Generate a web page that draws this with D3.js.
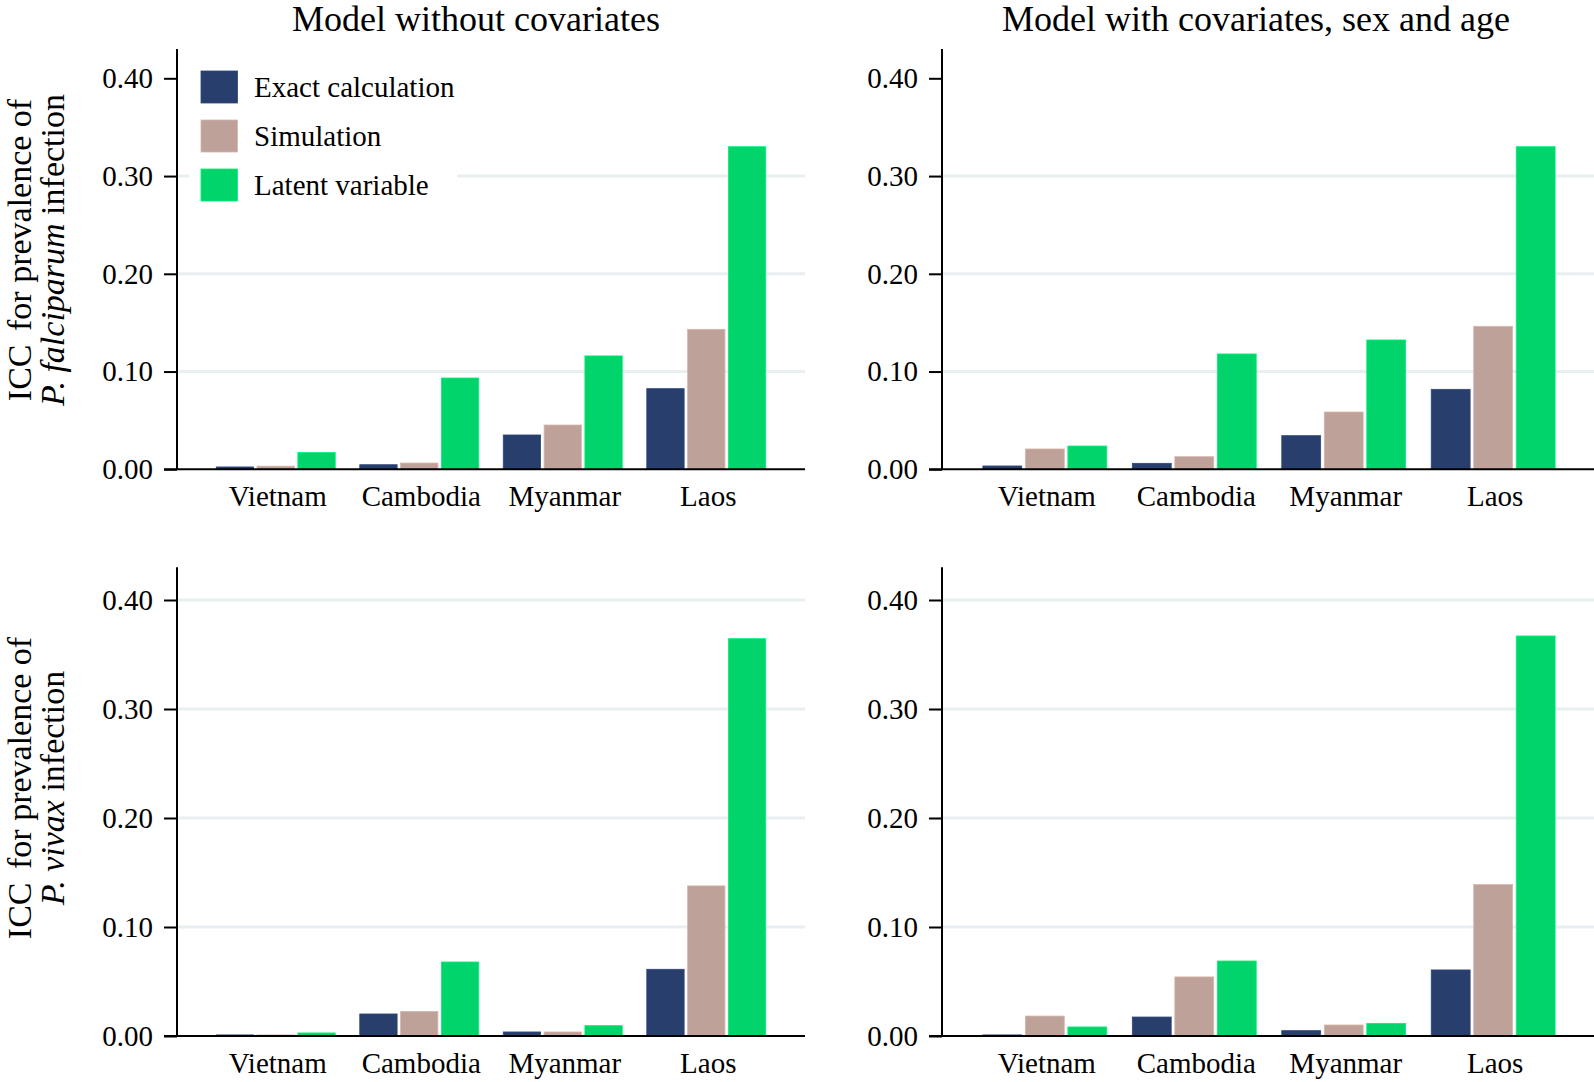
<!DOCTYPE html>
<html>
<head>
<meta charset="utf-8">
<script src="https://cdn.jsdelivr.net/npm/d3@7"></script>
<style>
  html, body { margin: 0; padding: 0; background: #fff; }
  svg { display: block; }
  text { font-family: "Liberation Serif", "Times New Roman", serif; fill: #000; }
</style>
</head>
<body>
<svg id="chart" width="1594" height="1082"></svg>
<script>
// ---------- data ----------
const categories = ["Vietnam", "Cambodia", "Myanmar", "Laos"];
const seriesNames = ["Exact calculation", "Simulation", "Latent variable"];
const seriesColors = ["#283e6c", "#bea198", "#00d46a"];
const yTicks = [0, 0.1, 0.2, 0.3, 0.4];
const gridTicksTop = [0.1, 0.2, 0.3];
const gridTicksBottom = [0.1, 0.2, 0.3, 0.4];
const columnTitles = ["Model without covariates", "Model with covariates, sex and age"];

// P. falciparum, model without covariates
const pfNoCovExact  = [0.0024, 0.0047, 0.0351, 0.0825];
const pfNoCovSim    = [0.0032, 0.0064, 0.0453, 0.1432];
const pfNoCovLatent = [0.0172, 0.0934, 0.1160, 0.3300];
// P. falciparum, model with covariates
const pfCovExact    = [0.0034, 0.0061, 0.0344, 0.0818];
const pfCovSim      = [0.0208, 0.0129, 0.0586, 0.1463];
const pfCovLatent   = [0.0238, 0.1180, 0.1323, 0.3300];
// P. vivax, model without covariates
const pvNoCovExact  = [0.0010, 0.0202, 0.0037, 0.0612];
const pvNoCovSim    = [0.0010, 0.0226, 0.0037, 0.1377];
const pvNoCovLatent = [0.0028, 0.0679, 0.0095, 0.3645];
// P. vivax, model with covariates
const pvCovExact    = [0.0010, 0.0174, 0.0049, 0.0606];
const pvCovSim      = [0.0183, 0.0542, 0.0101, 0.1389];
const pvCovLatent   = [0.0083, 0.0688, 0.0116, 0.3670];

// ---------- layout ----------
const svg = d3.select("#chart");
const FONT_AX = 29;

const panels = [
  { x0: 177, x1: 805,  yBase: 469.3, pxPerUnit: 977.5, grid: gridTicksTop,    series: [pfNoCovExact, pfNoCovSim, pfNoCovLatent], legend: true },
  { x0: 942, x1: 1596, yBase: 469.3, pxPerUnit: 977.5, grid: gridTicksTop,    series: [pfCovExact, pfCovSim, pfCovLatent] },
  { x0: 177, x1: 805,  yBase: 1036,  pxPerUnit: 1090,  grid: gridTicksBottom, series: [pvNoCovExact, pvNoCovSim, pvNoCovLatent] },
  { x0: 942, x1: 1596, yBase: 1036,  pxPerUnit: 1090,  grid: gridTicksBottom, series: [pvCovExact, pvCovSim, pvCovLatent] }
];
const yMaxVal = 0.43;

panels.forEach((p) => {
  const g = svg.append("g");
  const y = d3.scaleLinear().domain([0, yMaxVal]).range([p.yBase, p.yBase - yMaxVal * p.pxPerUnit]);
  const x = d3.scaleBand().domain(categories).range([p.x0, p.x1]).paddingInner(0.171).paddingOuter(0.2735);
  const xi = d3.scaleBand().domain(d3.range(seriesNames.length)).range([0, x.bandwidth()]).paddingInner(0.085).paddingOuter(0);

  // gridlines
  g.selectAll("line.grid").data(p.grid).enter().append("line")
    .attr("x1", p.x0).attr("x2", Math.min(p.x1, 1600))
    .attr("y1", d => y(d)).attr("y2", d => y(d))
    .attr("stroke", "#e8eff1").attr("stroke-width", 3);

  // bars
  p.series.forEach((vals, si) => {
    g.selectAll(null).data(vals).enter().append("rect")
      .attr("x", (d, i) => x(categories[i]) + xi(si))
      .attr("width", xi.bandwidth())
      .attr("y", d => y(d))
      .attr("height", d => y(0) - y(d))
      .attr("fill", seriesColors[si])
      .attr("stroke", d3.color(seriesColors[si]).brighter(0.35))
      .attr("stroke-width", 0.8);
  });

  // y axis
  const yAxis = d3.axisLeft(y).tickValues(yTicks).tickFormat(d3.format(".2f")).tickSize(13).tickPadding(11);
  const ya = g.append("g").attr("transform", `translate(${p.x0},0)`).call(yAxis);
  ya.select(".domain").remove();
  ya.selectAll(".tick line").attr("stroke", "#000").attr("stroke-width", 2);
  ya.selectAll(".tick text").attr("font-size", FONT_AX).attr("font-family", "Liberation Serif, Times New Roman, serif").attr("fill", "#000");
  g.append("line").attr("x1", p.x0).attr("x2", p.x0)
    .attr("y1", y(0)).attr("y2", y(yMaxVal))
    .attr("stroke", "#000").attr("stroke-width", 2);

  // x axis
  g.append("line").attr("x1", p.x0 - 13).attr("x2", Math.min(p.x1, 1600))
    .attr("y1", y(0)).attr("y2", y(0))
    .attr("stroke", "#000").attr("stroke-width", 2);
  g.selectAll("text.xl").data(categories).enter().append("text")
    .attr("x", d => x(d) + x.bandwidth() / 2 + 2)
    .attr("y", y(0) + 37)
    .attr("text-anchor", "middle")
    .attr("font-size", FONT_AX)
    .text(d => d);

  // legend
  if (p.legend) {
    const lg = g.append("g");
    lg.append("rect").attr("x", 189).attr("y", 58).attr("width", 268).attr("height", 156).attr("fill", "#fff");
    seriesNames.forEach((name, i) => {
      lg.append("rect").attr("x", 201).attr("y", 71 + i * 49).attr("width", 36.5).attr("height", 32)
        .attr("fill", seriesColors[i]).attr("stroke", d3.color(seriesColors[i]).brighter(0.35)).attr("stroke-width", 0.8);
      lg.append("text").attr("x", 254).attr("y", 97 + i * 49).attr("font-size", FONT_AX).text(name);
    });
  }
});

// column titles
svg.append("text").attr("x", 476).attr("y", 31).attr("text-anchor", "middle").attr("font-size", 36).text(columnTitles[0]);
svg.append("text").attr("x", 1256).attr("y", 31).attr("text-anchor", "middle").attr("font-size", 36).text(columnTitles[1]);

// row titles
function rowTitle(cy, italicPart) {
  const t1 = svg.append("text")
    .attr("transform", `translate(31,${cy}) rotate(-90)`)
    .attr("text-anchor", "middle").attr("font-size", 34);
  t1.append("tspan").text("ICC");
  t1.append("tspan").attr("dx", 5).text(" for prevalence of");
  const t2 = svg.append("text")
    .attr("transform", `translate(64,${cy}) rotate(-90)`)
    .attr("text-anchor", "middle").attr("font-size", 34);
  t2.append("tspan").attr("font-style", "italic").text(italicPart);
  t2.append("tspan").text(" infection");
}
rowTitle(250, "P. falciparum");
rowTitle(788, "P. vivax");
</script>
</body>
</html>
